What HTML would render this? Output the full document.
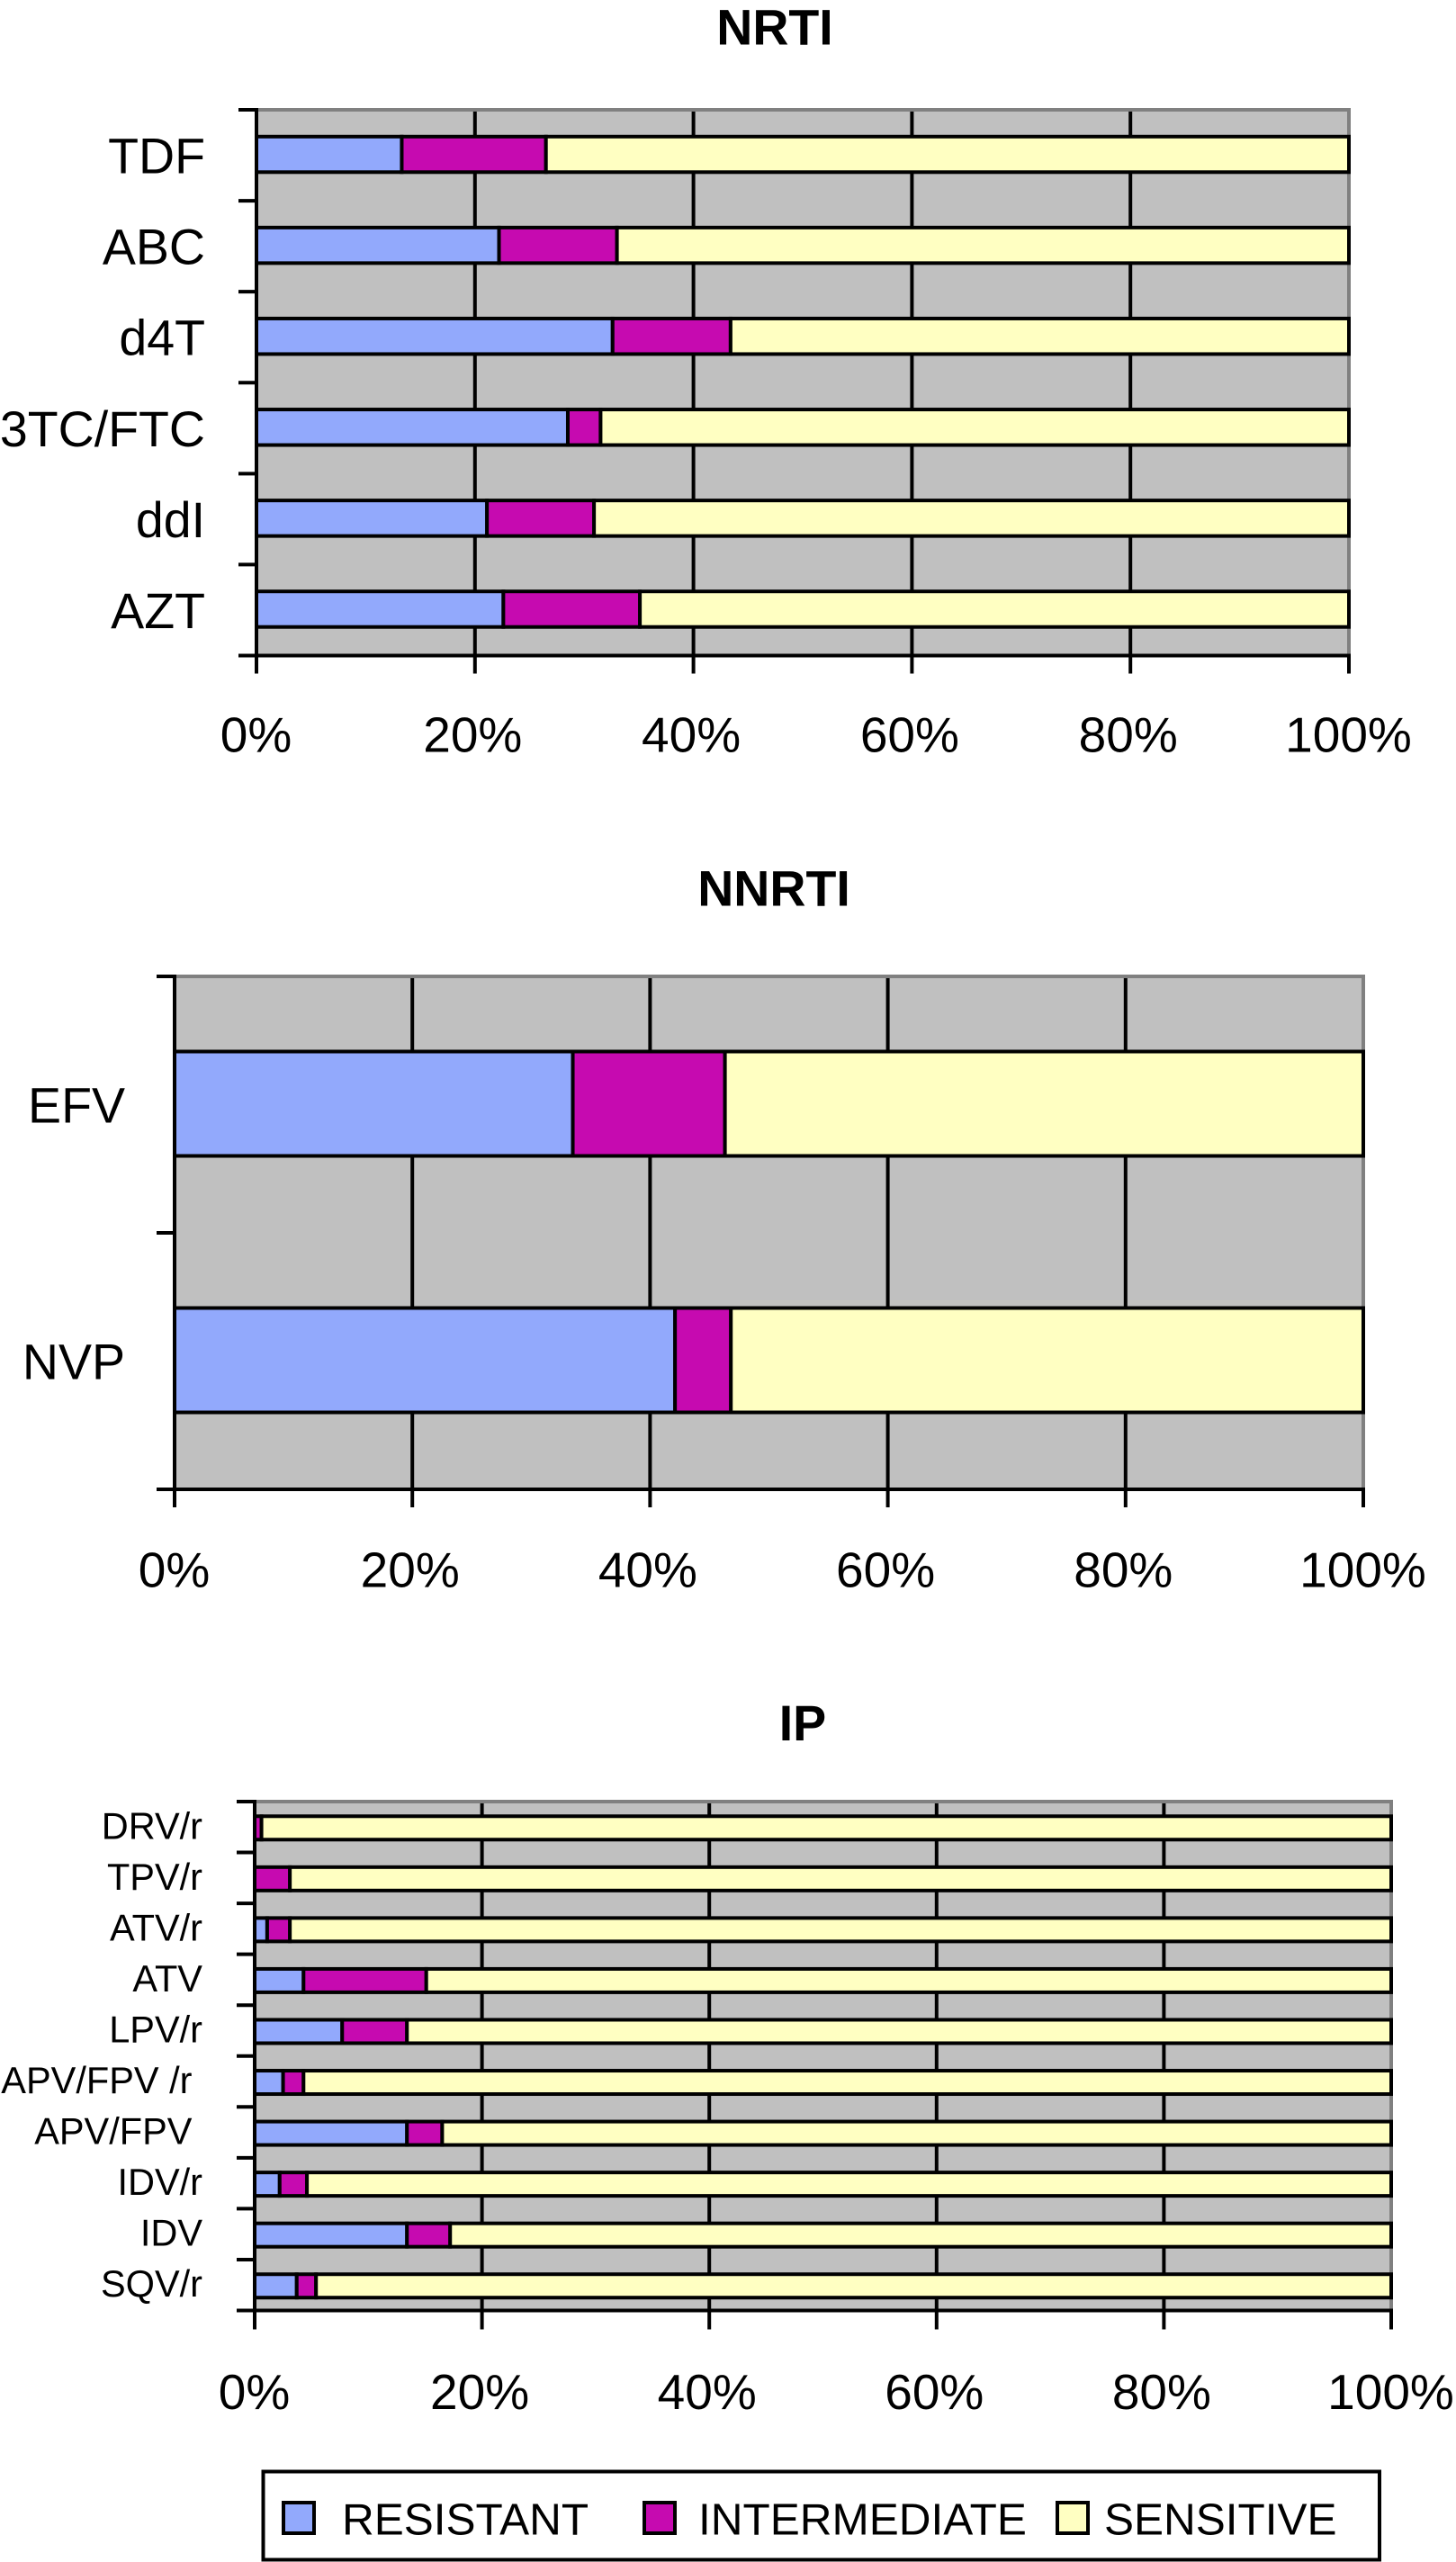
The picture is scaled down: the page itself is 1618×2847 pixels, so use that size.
<!DOCTYPE html>
<html lang="en">
<head>
<meta charset="utf-8">
<title>Antiretroviral resistance: NRTI, NNRTI, IP</title>
<style>
html,body{margin:0;padding:0;background:#fff;}
svg{display:block;}
text{font-family:"Liberation Sans",Arial,sans-serif;fill:#000;white-space:pre;}
</style>
</head>
<body>
<svg id="figure" xmlns="http://www.w3.org/2000/svg" width="1618" height="2847" viewBox="0 0 1618 2847"></svg>
<script>
/* Shared axis values */
const xTickValues = [0, 20, 40, 60, 80, 100];
const xTickLabels = ['0%', '20%', '40%', '60%', '80%', '100%'];

/* NRTI */
const nrtiCategories = ['TDF', 'ABC', 'd4T', '3TC/FTC', 'ddI', 'AZT'];
const nrtiResistant = [13.3, 22.2, 32.6, 28.5, 21.1, 22.6];
const nrtiIntermediate = [13.2, 10.8, 10.8, 3.0, 9.8, 12.5];
const nrtiSensitive = [73.5, 67.0, 56.6, 68.5, 69.1, 64.9];

/* NNRTI */
const nnrtiCategories = ['EFV', 'NVP'];
const nnrtiResistant = [33.5, 42.1];
const nnrtiIntermediate = [12.8, 4.7];
const nnrtiSensitive = [53.7, 53.2];

/* IP */
const ipCategories = ['DRV/r', 'TPV/r', 'ATV/r', 'ATV', 'LPV/r', 'APV/FPV /r ', 'APV/FPV ', 'IDV/r', 'IDV', 'SQV/r'];
const ipResistant = [0, 0, 1.1, 4.3, 7.7, 2.5, 13.4, 2.2, 13.4, 3.7];
const ipIntermediate = [0.6, 3.1, 2.0, 10.8, 5.7, 1.8, 3.1, 2.4, 3.8, 1.7];
const ipSensitive = [99.4, 96.9, 96.9, 84.9, 86.6, 95.7, 83.5, 95.4, 82.8, 94.6];

/* Legend */
const legendLabels = ['RESISTANT', 'INTERMEDIATE', 'SENSITIVE'];

const seriesColors = ['#92a9fc', '#c60ab0', '#ffffc2'];
const svg = document.getElementById('figure');
const NS = 'http://www.w3.org/2000/svg';
const LINE = 4;

function make(tag, attrs, parent) {
  const el = document.createElementNS(NS, tag);
  for (const k in attrs) el.setAttribute(k, attrs[k]);
  parent.appendChild(el);
  return el;
}

function drawChart(cfg) {
  const g = make('g', {}, svg);
  
  

  const xScale = v => cfg.left + (cfg.right - cfg.left) * v / 100;
  const bandH = (cfg.bottom - cfg.top) / cfg.categories.length;
  const yEdge = i => cfg.top + bandH * i;
  const yMid = i => cfg.top + bandH * (i + 0.5);

  const title = make('text', {x: cfg.titleX, y: cfg.titleY, 'font-size': 55.5, 'font-weight': 'bold', 'text-anchor': 'middle'}, g);
  title.textContent = cfg.title;
  
  

  const plot = make('rect', {x: cfg.left, y: cfg.top, width: cfg.right - cfg.left, height: cfg.bottom - cfg.top, fill: '#c0c0c0'}, g);
  
  

  const topEdge = make('line', {x1: cfg.left, x2: cfg.right + LINE / 2, y1: cfg.top, y2: cfg.top, stroke: '#808080', 'stroke-width': LINE}, g);
  
  
  const rightEdge = make('line', {x1: cfg.right, x2: cfg.right, y1: cfg.top, y2: cfg.bottom, stroke: '#808080', 'stroke-width': LINE}, g);
  
  

  xTickValues.forEach((v, i) => {
    const x = xScale(v);
    if (v > 0 && v < 100) {
      const grid = make('line', {x1: x, x2: x, y1: cfg.top + LINE / 2, y2: cfg.bottom, stroke: '#000', 'stroke-width': LINE}, g);
      
      
    }
    const tick = make('line', {x1: x, x2: x, y1: cfg.bottom, y2: cfg.bottom + cfg.tickLen, stroke: '#000', 'stroke-width': LINE}, g);
    
    
    const labelShift = (v > 0 && v < 100) ? -2.5 : -0.5;
    const lab = make('text', {x: x + labelShift, y: cfg.xLabelY, 'font-size': 55, 'text-anchor': 'middle'}, g);
    lab.textContent = xTickLabels[i];
    
    
  });

  cfg.categories.forEach((c, i) => {
    const total = cfg.resistant[i] + cfg.intermediate[i] + cfg.sensitive[i];
    const vals = [cfg.resistant[i], cfg.intermediate[i], cfg.sensitive[i]];
    let cum = 0;
    const names = ['resistant', 'intermediate', 'sensitive'];
    vals.forEach((v, s) => {
      const x0 = xScale(cum / total * 100);
      cum += v;
      const x1 = xScale(cum / total * 100);
      if (v <= 0) return;
      const seg = make('rect', {x: x0, y: yMid(i) - cfg.barH / 2 + cfg.barDy, width: x1 - x0, height: cfg.barH, fill: seriesColors[s], stroke: '#000', 'stroke-width': LINE}, g);
      
      
    });
    const lab = make('text', {x: cfg.labelRight, y: yMid(i) + cfg.labelDy, 'font-size': cfg.labelSize, 'text-anchor': 'end'}, g);
    lab.textContent = c;
    
    
  });

  for (let i = 0; i <= cfg.categories.length; i++) {
    const tick = make('line', {x1: cfg.left - 20, x2: cfg.left, y1: yEdge(i), y2: yEdge(i), stroke: '#000', 'stroke-width': LINE}, g);
    
    
  }

  const yAxis = make('line', {x1: cfg.left, x2: cfg.left, y1: cfg.top - LINE / 2, y2: cfg.bottom + cfg.tickLen, stroke: '#000', 'stroke-width': LINE}, g);
  
  
  const xAxis = make('line', {x1: cfg.left, x2: cfg.right + LINE / 2, y1: cfg.bottom, y2: cfg.bottom, stroke: '#000', 'stroke-width': LINE}, g);
  
  
}

drawChart({key: 'nrti', title: 'NRTI', titleX: 861, titleY: 49.5,
  categories: nrtiCategories, resistant: nrtiResistant, intermediate: nrtiIntermediate, sensitive: nrtiSensitive,
  left: 285, right: 1499, top: 122, bottom: 728.5, tickLen: 20, barH: 39.5, barDy: -1,
  xLabelY: 835.5, labelRight: 228, labelDy: 20, labelSize: 55.5});

drawChart({key: 'nnrti', title: 'NNRTI', titleX: 860, titleY: 1006.5,
  categories: nnrtiCategories, resistant: nnrtiResistant, intermediate: nnrtiIntermediate, sensitive: nnrtiSensitive,
  left: 194, right: 1515, top: 1085, bottom: 1655, tickLen: 20, barH: 116, barDy: -1,
  xLabelY: 1763.5, labelRight: 139, labelDy: 20, labelSize: 55.5});

drawChart({key: 'ip', title: 'IP', titleX: 892, titleY: 1934,
  categories: ipCategories, resistant: ipResistant, intermediate: ipIntermediate, sensitive: ipSensitive,
  left: 283, right: 1546, top: 2002, bottom: 2567.5, tickLen: 21, barH: 26, barDy: 1,
  xLabelY: 2677, labelRight: 225, labelDy: 13, labelSize: 41.5});

/* Legend */
const legend = make('g', {}, svg);


const legendBox = make('rect', {x: 292.5, y: 2746.5, width: 1240.5, height: 98, fill: '#fff', stroke: '#000', 'stroke-width': 4}, legend);


const swatchX = [315, 716, 1175];
const legendTextX = [380, 776, 1227];
legendLabels.forEach((label, i) => {
  const sw = make('rect', {x: swatchX[i], y: 2781, width: 34, height: 34, fill: seriesColors[i], stroke: '#000', 'stroke-width': 4}, legend);
  
  
  const t = make('text', {x: legendTextX[i], y: 2816.5, 'font-size': 49.5}, legend);
  t.textContent = label;
  
  
});
</script>
</body>
</html>
